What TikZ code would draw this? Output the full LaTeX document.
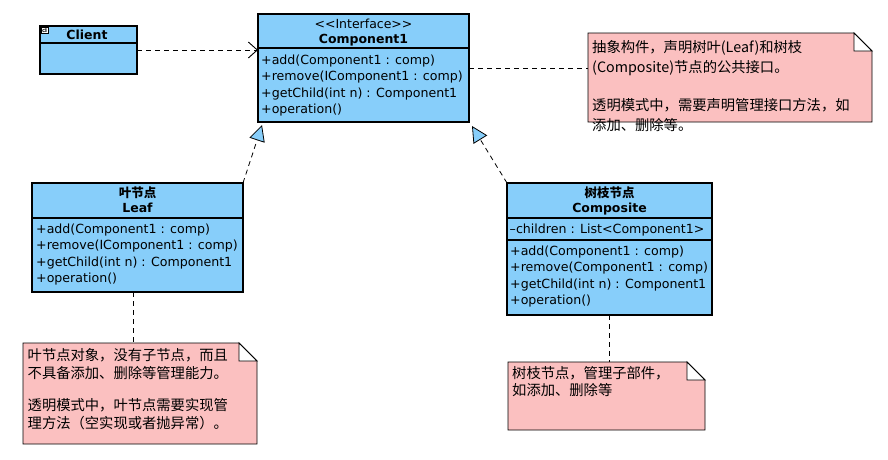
\documentclass[tikz,border=0pt]{standalone}
\usepackage{fontspec}
\setmainfont{DejaVu Sans}
\newfontfamily\cjk{Noto Sans CJK SC}
\usetikzlibrary{arrows.meta,calc}
\definecolor{boxblue}{HTML}{87CEFA}
\definecolor{notepink}{HTML}{FBC0C0}
\newcommand\umlnote[1]{%
  \fill[notepink] (#1.north west) -- ([xshift=-18pt]#1.north east) -- ([yshift=-18pt]#1.north east) -- (#1.south east) -- (#1.south west) -- cycle;
  \draw[line width=0.9pt] (#1.north west) -- ([xshift=-18pt]#1.north east) -- ([yshift=-18pt]#1.north east) -- (#1.south east) -- (#1.south west) -- cycle;
  \draw[line width=0.9pt, fill=white] ([xshift=-18pt]#1.north east) -- ([xshift=-18pt,yshift=-18pt]#1.north east) -- ([yshift=-18pt]#1.north east) -- cycle;}
\begin{document}
\begin{tikzpicture}[x=1pt,y=-1pt,
  cls/.style={draw=black, fill=boxblue, line width=1.1pt, inner sep=0pt, outer sep=0pt, anchor=north west},
  notebox/.style={inner sep=0pt, outer sep=0pt, anchor=north west},
  txt/.style={inner sep=0pt, anchor=base west, font=\fontsize{12.6}{15}\selectfont},
  ttl/.style={inner sep=0pt, anchor=base, font=\bfseries\fontsize{12.5}{15}\selectfont},
  cttl/.style={inner sep=0pt, anchor=base, font=\cjk\bfseries\fontsize{12.5}{15}\selectfont},
  ntxt/.style={inner sep=0pt, anchor=base west, font=\cjk\fontsize{14.3}{18}\selectfont},
  divider/.style={line width=1.1pt},
  conn/.style={dash pattern=on 5pt off 4pt, line width=0.8pt},
  realize/.style={conn, -{Triangle[length=16pt,width=16pt,fill=boxblue,line width=0.8pt]}},
  depend/.style={conn, -{Straight Barb[length=9pt,width=16pt,line width=0.9pt]}}]
\useasboundingbox (0,0) rectangle (888,459);

% ---------- Client ----------
\node[cls, minimum width=97pt, minimum height=48pt] (client) at (40,26) {};
\draw[divider] (client.west |- 0,43) -- (client.east |- 0,43);
\node[draw, fill=white, line width=0.5pt, inner sep=0.5pt, anchor=north west, font=\fontsize{9}{9}\selectfont] (icon) at (41,27) {a};
\node[ttl] (clientname) at (87,39.5) {Client};

% ---------- Component1 ----------
\node[cls, minimum width=211pt, minimum height=108pt] (comp) at (258,14) {};
\draw[divider] (comp.west |- 0,48) -- (comp.east |- 0,48);
\node[inner sep=0pt, anchor=base, font=\fontsize{12.5}{15}\selectfont] (compst) at (363.5,28.5) {<{}<Interface>{}>};
\node[ttl] (compname) at (363.5,43.5) {Component1};
\foreach \t [count=\i] in {{+add(Component1 : comp)},{+remove(IComponent1 : comp)},{+getChild(int n) : Component1},{+operation()}}
  \node[txt] (cm\i) at (261,{64.5+16.4*(\i-1)}) {\t};

% ---------- Leaf ----------
\node[cls, minimum width=211pt, minimum height=109pt] (leaf) at (32,183) {};
\draw[divider] (leaf.west |- 0,218) -- (leaf.east |- 0,218);
\node[cttl] (leafcn) at (137.5,197.5) {叶节点};
\node[ttl] (leafname) at (137.5,212.5) {Leaf};
\foreach \t [count=\i] in {{+add(Component1 : comp)},{+remove(IComponent1 : comp)},{+getChild(int n) : Component1},{+operation()}}
  \node[txt] (lm\i) at (36,{233.5+16.3*(\i-1)}) {\t};

% ---------- Composite ----------
\node[cls, minimum width=205pt, minimum height=132pt] (compo) at (507,183) {};
\draw[divider] (compo.west |- 0,218) -- (compo.east |- 0,218);
\draw[divider] (compo.west |- 0,240) -- (compo.east |- 0,240);
\node[cttl] (compocn) at (609.5,197.5) {树枝节点};
\node[ttl] (componame) at (609.5,212.5) {Composite};
\node[txt] (coattr) at (509.5,233.5) {--children : List<Component1>};
\foreach \t [count=\i] in {{+add(Component1 : comp)},{+remove(Component1 : comp)},{+getChild(int n) : Component1},{+operation()}}
  \node[txt] (com\i) at (510,{255.5+16.3*(\i-1)}) {\t};

% ---------- Notes ----------
\node[notebox, minimum width=284pt, minimum height=89pt] (n1) at (588,33) {};
\umlnote{n1}
\node[ntxt] (n1a) at (592,52) {抽象构件，声明树叶(Leaf)和树枝};
\node[ntxt] (n1b) at (592,72) {(Composite)节点的公共接口。};
\node[ntxt] (n1c) at (592,110) {透明模式中，需要声明管理接口方法，如};
\node[ntxt] (n1d) at (592,130) {添加、删除等。};

\node[notebox, minimum width=234pt, minimum height=101pt] (n2) at (23,343) {};
\umlnote{n2}
\node[ntxt] (n2a) at (27.5,360) {叶节点对象，没有子节点，而且};
\node[ntxt] (n2b) at (27.5,378) {不具备添加、删除等管理能力。};
\node[ntxt] (n2c) at (27.5,410) {透明模式中，叶节点需要实现管};
\node[ntxt] (n2d) at (27.5,428) {理方法（空实现或者抛异常）。};

\node[notebox, minimum width=197pt, minimum height=68pt] (n3) at (508,362) {};
\umlnote{n3}
\node[ntxt] (n3a) at (512,378) {树枝节点，管理子部件，};
\node[ntxt] (n3b) at (512,395.5) {如添加、删除等};

% ---------- Connectors ----------
\draw[depend] (client.east) -- (client.east -| comp.west);
\draw[conn] (comp.east) -- (comp.east -| n1.west);
\draw[realize] (leaf.north east) -- ([xshift=4pt,yshift=-3pt]comp.south west);
\draw[realize] (compo.north west) -- ([xshift=3pt,yshift=-4pt]comp.south east);
\draw[conn] ([xshift=-4pt]leaf.south) -- ([xshift=-4pt]leaf.south |- n2.north);
\draw[conn] (compo.south) -- (compo.south |- n3.north);
\end{tikzpicture}
\end{document}
